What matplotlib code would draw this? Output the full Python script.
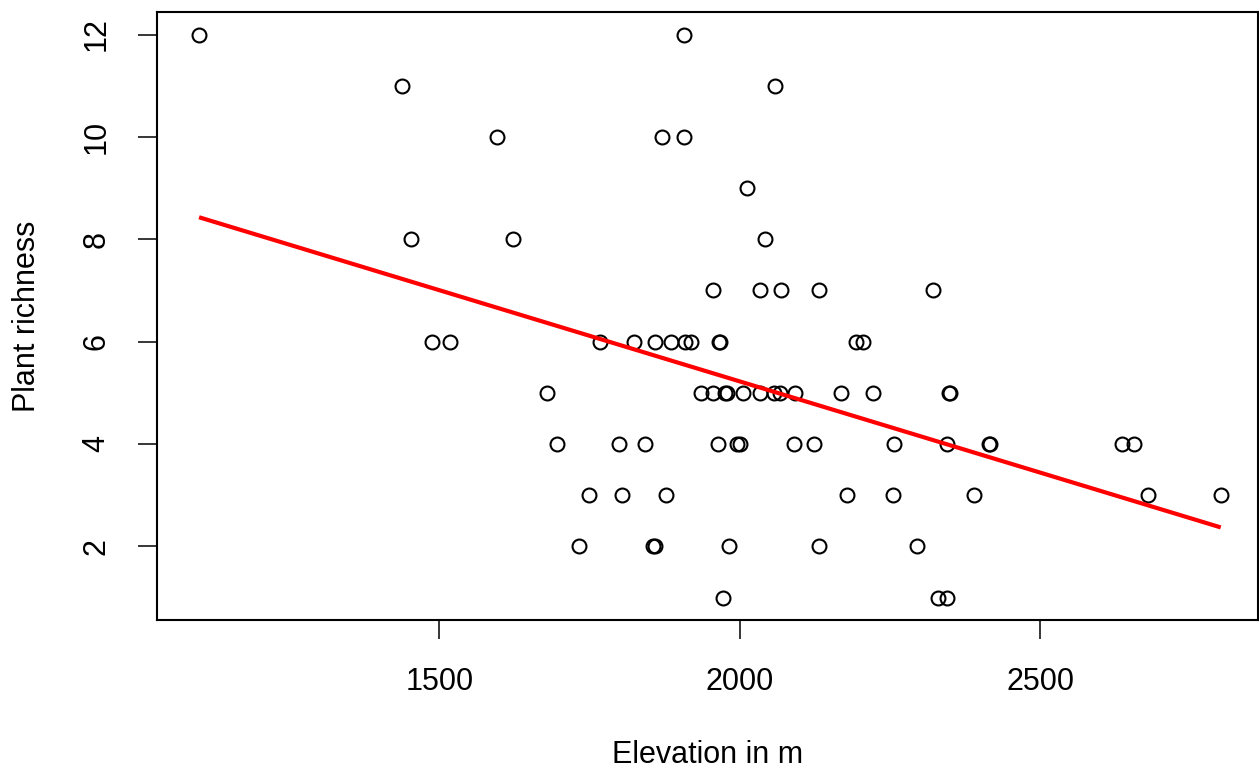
import matplotlib
matplotlib.use("Agg")
import matplotlib.pyplot as plt

# Elevation (m) and plant richness per plot
elev_12 = [1100, 1907]
elev_11 = [1437, 2058]
elev_10 = [1596, 1870, 1907]
elev_9 = [2012]
elev_8 = [1452, 1623, 2042]
elev_7 = [1955, 2033, 2068, 2131, 2322]
elev_6 = [1488, 1517, 1767, 1824, 1859, 1885, 1909, 1919, 1965, 1966, 2193, 2204]
elev_5 = [1679, 1935, 1955, 1975, 1979, 2005, 2033, 2056, 2066, 2091, 2168, 2221, 2348, 2350]
elev_4 = [1696, 1799, 1842, 1963, 1995, 2000, 2090, 2123, 2257, 2344, 2414, 2416, 2636, 2656]
elev_3 = [1749, 1804, 1877, 2178, 2254, 2390, 2679, 2800]
elev_2 = [1733, 1856, 1858, 1982, 2131, 2294]
elev_1 = [1972, 2329, 2344]

richness_levels = [12, 11, 10, 9, 8, 7, 6, 5, 4, 3, 2, 1]
elev_groups = [elev_12, elev_11, elev_10, elev_9, elev_8, elev_7,
               elev_6, elev_5, elev_4, elev_3, elev_2, elev_1]

# fitted regression line (endpoints)
fit_x = [1100, 2800]
fit_y = [8.43, 2.37]

x_ticks = [1500, 2000, 2500]
y_ticks = [2, 4, 6, 8, 10, 12]
x_limits = [1030, 2862]
y_limits = [0.56, 12.44]

xs, ys = [], []
for lvl, grp in zip(richness_levels, elev_groups):
    xs.extend(grp)
    ys.extend([lvl] * len(grp))

plt.rcParams['font.family'] = ['Liberation Sans', 'DejaVu Sans']

fig = plt.figure(figsize=(12.59, 7.71), dpi=100)
ax = fig.add_axes([0.1247, 0.1958, 0.8745, 0.7886])

ax.plot(xs, ys, linestyle='none', marker='o', markersize=10,
        markerfacecolor='none', markeredgecolor='black', markeredgewidth=1.5)
ax.plot(fit_x, fit_y, color='red', linewidth=3.0, solid_capstyle='butt')

ax.set_xlim(*x_limits)
ax.set_ylim(*y_limits)

ax.set_xticks(x_ticks)
ax.set_yticks(y_ticks)
ax.set_xticklabels([str(t) for t in x_ticks])
ax.set_yticklabels([str(t) for t in y_ticks], rotation=90, va='center')

for s in ax.spines.values():
    s.set_linewidth(1.5)
ax.tick_params(axis='both', direction='out', length=14, width=1.1,
               labelsize=22, pad=20)
ax.tick_params(axis='y', pad=19)

ax.set_xlabel('Elevation in m', fontsize=22, labelpad=31)
ax.set_ylabel('Plant richness', fontsize=22, labelpad=28)

fig.savefig('out.png', dpi=100)
